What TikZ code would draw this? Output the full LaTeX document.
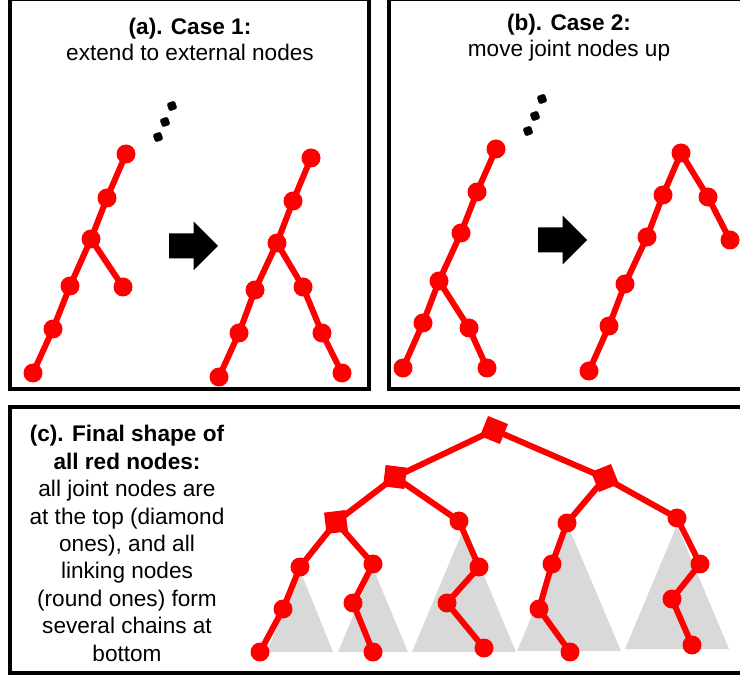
\documentclass[tikz,border=0pt]{standalone}
\usepackage{fontspec}
\setmainfont{Liberation Sans}
\usetikzlibrary{backgrounds}

\tikzset{
  linknode/.style={circle, fill=red, inner sep=0pt, minimum size=19pt},
  jointnode/.style={rectangle, fill=red, inner sep=0pt, minimum size=21.5pt},
  rededge/.style={red, line width=6pt},
  panel/.style={line width=4pt},
  moredot/.style={rectangle, rounded corners=2pt, fill=black, inner sep=0pt, minimum size=8.5pt, rotate=20},
  subtree/.style={fill=black!15},
  caption/.style={align=center, anchor=base, font=\fontsize{22.6}{26.5}\selectfont}
}

\begin{document}
\begin{tikzpicture}[x=1pt, y=-1pt]
  \useasboundingbox (0,0) rectangle (740,676);

  % Panels
  \draw[panel] (10,-1) rectangle (369,389);
  \draw[panel] (389,-1) rectangle (744,389);
  \draw[panel] (10,407) rectangle (744,673);

  % Titles (anchored at the last line)
  \node[caption] (titleA) at (190,61) {\textbf{(a). Case 1:}\\extend to external nodes};
  \node[caption] (titleB) at (569,57) {\textbf{(b). Case 2:}\\move joint nodes up};
  \node[caption, font=\fontsize{22.6}{27.4}\selectfont] (titleC) at (127,661)
    {\textbf{(c). Final shape of}\\\textbf{all red nodes:}\\all joint nodes are\\at the top (diamond\\ones), and all\\linking nodes\\(round ones) form\\several chains at\\bottom};

  % More nodes above
  \foreach \x/\y [count=\i] in {172/106, 165/122, 158/137}
    \node[moredot] (dotA\i) at (\x,\y) {};
  \foreach \x/\y [count=\i] in {542/99, 535/116, 528/131}
    \node[moredot] (dotB\i) at (\x,\y) {};

  % Block arrows
  \foreach \x/\y in {169/246, 538/240}
    \fill (\x,\y-12.5) -- ++(24.5,0) -- ++(0,-12) -- ++(24.5,24.5)
      -- ++(-24.5,24.5) -- ++(0,-12) -- ++(-24.5,0) -- cycle;

  % Case 1
  \foreach \n/\x/\y in {1/126/154, 2/107/198, 3/91/239, 4/70/286, 5/53/329, 6/33/373, 7/123/287}
    \node[linknode] (al\n) at (\x,\y) {};
  \foreach \n/\x/\y in {1/311/158, 2/293/201, 3/277/243, 4/255/290, 5/239/333, 6/219/377,
                        7/303/287, 8/322/333, 9/342/373}
    \node[linknode] (ar\n) at (\x,\y) {};

  % Case 2
  \foreach \n/\x/\y in {1/496/149, 2/477/192, 3/461/233, 4/439/281, 5/423/323, 6/403/368,
                        7/469/328, 8/487/368}
    \node[linknode] (bl\n) at (\x,\y) {};
  \foreach \n/\x/\y in {1/681/153, 2/663/195, 3/647/237, 4/625/284, 5/609/326, 6/589/371,
                        7/708/197, 8/730/240}
    \node[linknode] (br\n) at (\x,\y) {};

  % Final shape: joint nodes
  \node[jointnode, rotate=-22] (j1) at (494,430) {};
  \node[jointnode, rotate=-7] (j2) at (395,477) {};
  \node[jointnode, rotate=22] (j3) at (605,478) {};
  \node[jointnode, rotate=7] (j4) at (336,522) {};

  % Final shape: linking nodes
  \foreach \n/\x/\y in {ca1/300/567, ca2/283/609, ca3/260/652,
                        cb1/373/564, cb2/353/603, cb3/373/652,
                        cc1/459/521, cc2/479/567, cc3/447/603, cc4/484/648,
                        cd1/567/523, cd2/552/564, cd3/539/609, cd4/570/652,
                        ce1/677/518, ce2/700/564, ce3/672/599, ce4/692/645}
    \node[linknode] (\n) at (\x,\y) {};

  \begin{scope}[on background layer]
    % Subtrees
    \foreach \x/\t/\w/\b in {300/570/33/652, 373/568/35/652, 464/528/52/652,
                             569/528/52/651, 677/525/52/649}
      \fill[subtree] (\x,\t) -- (\x+\w,\b) -- (\x-\w,\b) -- cycle;

    % Edges
    \foreach \a/\b in {al1/al2, al2/al3, al3/al4, al4/al5, al5/al6, al3/al7,
                       ar1/ar2, ar2/ar3, ar3/ar4, ar4/ar5, ar5/ar6, ar3/ar7, ar7/ar8, ar8/ar9,
                       bl1/bl2, bl2/bl3, bl3/bl4, bl4/bl5, bl5/bl6, bl4/bl7, bl7/bl8,
                       br1/br2, br2/br3, br3/br4, br4/br5, br5/br6, br1/br7, br7/br8,
                       j1/j2, j1/j3, j2/j4, j2/cc1, j3/cd1, j3/ce1, j4/ca1, j4/cb1,
                       ca1/ca2, ca2/ca3, cb1/cb2, cb2/cb3, cc1/cc2, cc2/cc3, cc3/cc4,
                       cd1/cd2, cd2/cd3, cd3/cd4, ce1/ce2, ce2/ce3, ce3/ce4}
      \draw[rededge] (\a.center) -- (\b.center);
  \end{scope}
\end{tikzpicture}
\end{document}
